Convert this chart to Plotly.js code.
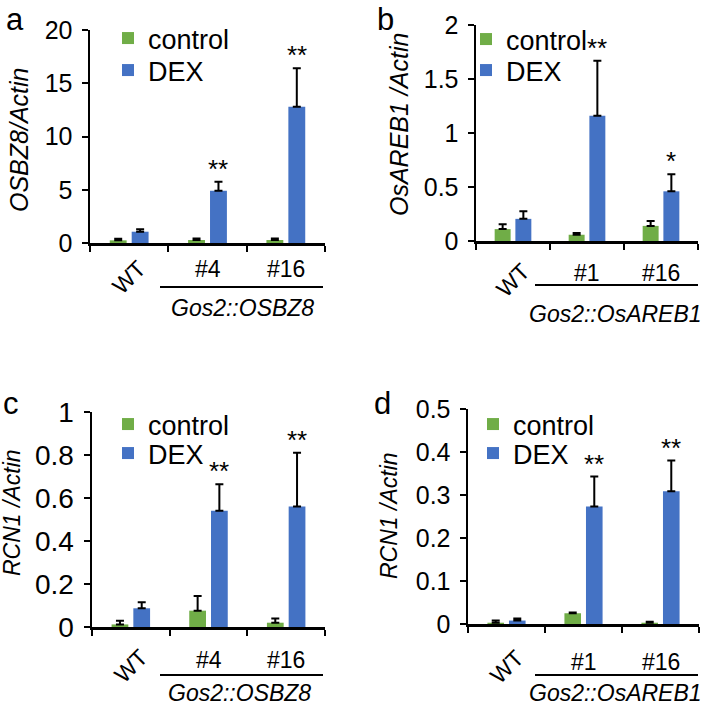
<!DOCTYPE html>
<html>
<head>
<meta charset="utf-8">
<script src="https://cdn.plot.ly/plotly-3.0.1.min.js"></script>
<style>
  html, body { margin: 0; padding: 0; background: #fff; }
  #plot { width: 709px; height: 708px; }
</style>
</head>
<body>
<div id="plot"></div>
<script>
/* values */
var catsA = ["WT", "#4", "#16"];
var catsB = ["WT", "#1", "#16"];

var ctrlA = [0.25, 0.28, 0.28];
var ctrlErrA = [0.15, 0.15, 0.15];
var dexA = [1.06, 4.9, 12.8];
var dexErrA = [0.22, 0.85, 3.6];
var starsA = ["", "**", "**"];

var ctrlB = [0.11, 0.058, 0.14];
var ctrlErrB = [0.045, 0.015, 0.045];
var dexB = [0.205, 1.16, 0.46];
var dexErrB = [0.07, 0.51, 0.157];
var starsB = ["", "**", "*"];

var ctrlC = [0.012, 0.076, 0.02];
var ctrlErrC = [0.017, 0.068, 0.019];
var dexC = [0.087, 0.541, 0.56];
var dexErrC = [0.028, 0.123, 0.251];
var starsC = ["", "**", "**"];

var ctrlD = [0.003, 0.025, 0.003];
var ctrlErrD = [0.005, 0.002, 0.002];
var dexD = [0.008, 0.273, 0.309];
var dexErrD = [0.005, 0.07, 0.071];
var starsD = ["", "**", "**"];

var W = 709, H = 708;
var FONT = "Liberation Sans, Arial, sans-serif";
var GREEN = "#70AD47", BLUE = "#4472C4";
var BARGAP = 0.44;

function X(p) { return p / W; }
function Y(p) { return 1 - p / H; }

// pixel positions of each panel (axes box, labels, legend rows)
var panels = [
  { id: "", letter: "a", cats: catsA, ctrl: ctrlA, ctrlErr: ctrlErrA, dex: dexA, dexErr: dexErrA, stars: starsA,
    range: [0, 20], dtick: 5, xdom: [90, 325], ydom: [243, 30], tickSize: 25,
    title: "<i>OSBZ8/Actin</i>", titlePos: [19, 140], titleSize: 25,
    letterPos: [15, 0], letterTop: true, legendX: 108, legendRows: [14, 46], legendSize: 27,
    catY: 269, wtPos: 277, linePos: [160, 323, 287], group: "<i>Gos2::OSBZ8</i>", groupPos: [242, 308] },
  { id: "2", letter: "b", cats: catsB, ctrl: ctrlB, ctrlErr: ctrlErrB, dex: dexB, dexErr: dexErrB, stars: starsB,
    range: [0, 2], dtick: 0.5, xdom: [476, 698], ydom: [241, 25], tickSize: 25,
    title: "<i>OsAREB1 /Actin</i>", titlePos: [399, 125], titleSize: 25,
    letterPos: [385, 0], letterTop: true, legendX: 466, legendRows: [15, 46], legendSize: 27,
    catY: 273, wtPos: 280, linePos: [535, 698, 285], group: "<i>Gos2::OsAREB1</i>", groupPos: [615, 314] },
  { id: "3", letter: "c", cats: catsA, ctrl: ctrlC, ctrlErr: ctrlErrC, dex: dexC, dexErr: dexErrC, stars: starsC,
    range: [0, 1], dtick: 0.2, xdom: [92, 325], ydom: [627, 412], tickSize: 28,
    title: "<i>RCN1 /Actin</i>", titlePos: [12, 513], titleSize: 23,
    letterPos: [11, 403], letterTop: false, legendX: 108, legendRows: [400, 429], legendSize: 27,
    catY: 660, wtPos: 666, linePos: [160, 323, 675], group: "<i>Gos2::OSBZ8</i>", groupPos: [240, H] },
  { id: "4", letter: "d", cats: catsB, ctrl: ctrlD, ctrlErr: ctrlErrD, dex: dexD, dexErr: dexErrD, stars: starsD,
    range: [0, 0.5], dtick: 0.1, xdom: [468, 699], ydom: [624, 409], tickSize: 25,
    title: "<i>RCN1 /Actin</i>", titlePos: [389, 516], titleSize: 23,
    letterPos: [382, 403], letterTop: false, legendX: 473, legendRows: [400, 429], legendSize: 27,
    catY: 662, wtPos: 667, linePos: [535, 698, 675], group: "<i>Gos2::OsAREB1</i>", groupPos: [615, H] }
];

var data = [];
var layout = {
  width: W, height: H,
  margin: { l: 0, r: 0, t: 0, b: 0, autoexpand: false },
  paper_bgcolor: "#fff", plot_bgcolor: "rgba(0,0,0,0)",
  font: { family: FONT, color: "#000" },
  showlegend: true,
  barmode: "group", bargap: BARGAP, bargroupgap: 0.23,
  annotations: [], shapes: []
};

var legendCount = 0;
function nextLegend() {
  legendCount++;
  return legendCount === 1 ? "legend" : "legend" + legendCount;
}

panels.forEach(function (p) {
  var xa = "x" + p.id, ya = "y" + p.id;
  var legC = nextLegend(), legD = nextLegend();

  data.push({
    type: "bar", name: "control", x: p.cats, y: p.ctrl,
    xaxis: xa, yaxis: ya, legend: legC, showlegend: true,
    marker: { color: GREEN },
    error_y: { type: "data", symmetric: false, array: p.ctrlErr, arrayminus: [0, 0, 0],
               color: "#000", thickness: 2, width: 4 }
  });
  data.push({
    type: "bar", name: "DEX", x: p.cats, y: p.dex,
    xaxis: xa, yaxis: ya, legend: legD, showlegend: true,
    marker: { color: BLUE },
    error_y: { type: "data", symmetric: false, array: p.dexErr, arrayminus: [0, 0, 0],
               color: "#000", thickness: 2, width: 4 }
  });

  layout["xaxis" + p.id] = {
    domain: [X(p.xdom[0]), X(p.xdom[1])], anchor: ya,
    type: "category", showline: true, linecolor: "#000", linewidth: 2.5,
    ticks: "outside", tickson: "boundaries", ticklen: 6, tickwidth: 2, tickcolor: "#000",
    showticklabels: false, showgrid: false, zeroline: false, fixedrange: true
  };
  layout["yaxis" + p.id] = {
    domain: [Y(p.ydom[0]), Y(p.ydom[1])], anchor: xa,
    range: p.range, dtick: p.dtick, tick0: 0,
    showline: true, linecolor: "#000", linewidth: 2.5,
    ticks: "outside", ticklen: 6, tickwidth: 2, tickcolor: "#000",
    ticklabelstandoff: 4,
    tickfont: { family: FONT, size: p.tickSize, color: "#000" },
    showgrid: false, zeroline: false, fixedrange: true
  };
  [legC, legD].forEach(function (lg, k) {
    layout[lg] = {
      visible: true,
      x: X(p.legendX), y: Y(p.legendRows[k]), xanchor: "left", yanchor: "top",
      bgcolor: "rgba(0,0,0,0)", borderwidth: 0,
      font: { family: FONT, size: p.legendSize, color: "#000" }
    };
  });

  // significance stars above the DEX bars
  var catPx = (p.xdom[1] - p.xdom[0]) / p.cats.length;
  var shift = catPx * (1 - BARGAP) / 4;
  p.stars.forEach(function (s, j) {
    if (!s) return;
    layout.annotations.push({
      xref: xa, yref: ya, x: p.cats[j], y: p.dex[j] + p.dexErr[j],
      xshift: shift, yshift: -4, yanchor: "bottom", showarrow: false,
      text: s, font: { family: FONT, size: 26, color: "#000" }
    });
  });

  // category labels
  p.cats.forEach(function (c, j) {
    layout.annotations.push({
      xref: xa, yref: "paper", x: c, y: Y(j === 0 ? p.wtPos : p.catY),
      yanchor: "middle", showarrow: false, textangle: j === 0 ? -45 : 0,
      text: c, font: { family: FONT, size: 23, color: "#000" }
    });
  });

  // group bracket line and label
  var x0 = p.xdom[0], wpx = p.xdom[1] - p.xdom[0];
  layout.shapes.push({
    type: "line", xref: xa + " domain", yref: "paper",
    x0: (p.linePos[0] - x0) / wpx, x1: (p.linePos[1] - x0) / wpx,
    y0: Y(p.linePos[2]), y1: Y(p.linePos[2]),
    line: { color: "#000", width: 2 }
  });
  layout.annotations.push({
    xref: "paper", yref: "paper", x: X(p.groupPos[0]), y: Y(p.groupPos[1]),
    xanchor: "center", yanchor: p.groupPos[1] === H ? "bottom" : "middle", showarrow: false,
    text: p.group, font: { family: FONT, size: 23, color: "#000" }
  });

  // y axis title
  layout.annotations.push({
    xref: "paper", yref: "paper", x: X(p.titlePos[0]), y: Y(p.titlePos[1]),
    xanchor: "center", yanchor: "middle", showarrow: false, textangle: -90,
    text: p.title, font: { family: FONT, size: p.titleSize, color: "#000" }
  });

  // panel letter
  layout.annotations.push({
    xref: "paper", yref: "paper", x: X(p.letterPos[0]), y: Y(p.letterPos[1]),
    xanchor: "center", yanchor: p.letterTop ? "top" : "middle", showarrow: false,
    text: p.letter, font: { family: FONT, size: 31, color: "#000" }
  });
});

Plotly.newPlot("plot", data, layout, { displayModeBar: false, staticPlot: true });
</script>
</body>
</html>
